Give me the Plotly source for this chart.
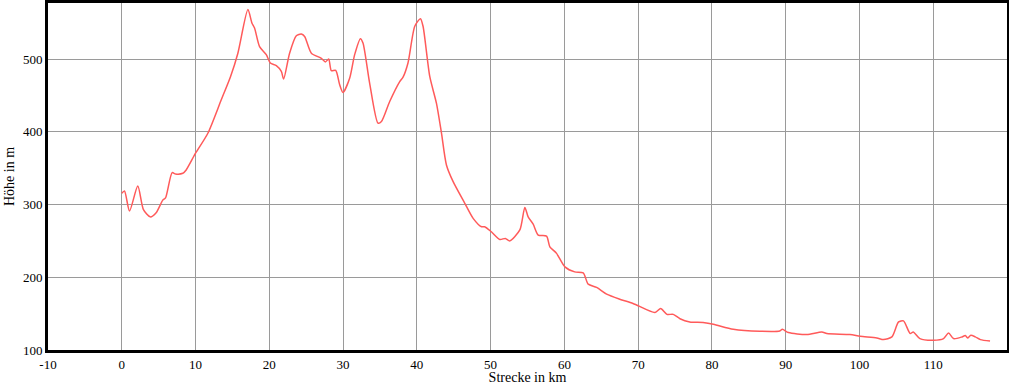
import plotly.graph_objects as go

distance_km = [0, 0.37, 1.05, 2.17, 2.94, 3.85, 4.66, 5.56, 5.93, 6.83, 7.29, 8.28, 8.73, 10.0,
               11.67, 13.49, 14.75, 15.74, 17.1, 17.64, 18.0, 18.68, 19.59, 20.14, 20.95, 21.63,
               21.94, 22.75, 23.66, 24.34, 24.79, 25.7, 27.06, 27.6, 28.05, 28.41, 29.0, 29.54,
               29.99, 30.9, 31.57, 32.35, 32.7, 33.6, 34.74, 35.2, 36.32, 37.68, 38.13, 38.8,
               39.72, 40.49, 40.84, 41.75, 42.66, 43.34, 44.01, 44.92, 46.5, 47.63, 48.77, 49.2,
               50.1, 51.25, 52.0, 52.6, 53.96, 54.64, 55.09, 55.77, 56.45, 57.58, 58.03, 58.94,
               60.07, 61.4, 62.55, 63.23, 64.37, 65.73, 67.5, 69.3, 72.28, 73.05, 73.9, 74.76,
               75.67, 77.0, 78.8, 80.2, 82.9, 86.5, 89.2, 89.55, 90.37, 92.86, 94.9, 95.58,
               98.7, 100.1, 102.36, 103.26, 104.4, 105.3, 105.97, 106.88, 107.3, 108.2, 110.04,
               111.4, 112.08, 112.75, 113.9, 114.35, 114.66, 115.1, 115.7, 116.4, 117.7]
elevation_m = [315.5, 318.6, 291, 325.5, 293, 283, 288.7, 306, 309, 343.8, 342, 343, 347.5, 370.5,
               398, 444, 476, 508, 568, 549.6, 542.6, 517, 506, 494.5, 491, 483,
               472.4, 508, 532, 534.4, 531, 508, 501, 496, 500, 484, 484.3, 464.6,
               454, 474, 506, 528, 522, 467, 411.8, 414, 441.6, 469, 475, 494.5,
               545, 555.5, 545, 476, 439, 398, 354.4, 331.4, 301.7, 281, 269.4, 269.4,
               262.5, 252, 253.4, 250, 265, 296, 283, 273, 258, 256.6, 241.9, 232.8,
               214.3, 207.4, 206, 190.5, 186, 176.7, 169.8, 164, 151.5, 157, 149, 149,
               143, 138.6, 137.7, 135.4, 128.5, 125.8, 126.2, 128.5, 124, 121.2, 124.8, 122.6,
               121.2, 118.9, 116.5, 114.3, 118, 138.6, 140, 122.6, 124.8, 115.7, 113.4,
               115.7, 123.4, 115.7, 118, 119.8, 116.5, 120.2, 118, 114.3, 112.4]

x_ticks = [-10, 0, 10, 20, 30, 40, 50, 60, 70, 80, 90, 100, 110]
y_ticks = [100, 200, 300, 400, 500]

fig = go.Figure()
fig.add_trace(go.Scatter(
    x=distance_km, y=elevation_m, mode="lines",
    line=dict(color="#ff5a5a", width=1.5, shape="spline", smoothing=0.7),
    showlegend=False, hoverinfo="x+y"))

font_family = "Liberation Serif"
fig.update_layout(
    width=1009, height=385,
    margin=dict(l=48, r=2, t=3, b=35, autoexpand=False),
    paper_bgcolor="white", plot_bgcolor="white",
    font=dict(family=font_family, size=13, color="black"),
    xaxis=dict(range=[-10, 120], tickvals=x_ticks, ticktext=[str(v) for v in x_ticks],
               showgrid=True, gridcolor="#9a9a9a", gridwidth=1.2,
               showline=True, linecolor="black", linewidth=3, mirror=True,
               zeroline=False, ticks="", ticklen=0, automargin=False,
               title=dict(text="Strecke in km", font=dict(size=14, family=font_family), standoff=0),
               tickfont=dict(size=13, family=font_family)),
    yaxis=dict(range=[100, 577], tickvals=y_ticks, ticktext=[str(v) for v in y_ticks],
               showgrid=True, gridcolor="#9a9a9a", gridwidth=1.2,
               showline=True, linecolor="black", linewidth=3, mirror=True,
               zeroline=False, ticks="", ticklen=0, automargin=False,
               title=dict(text="Höhe in m", font=dict(size=14, family=font_family), standoff=6),
               tickfont=dict(size=13, family=font_family)),
)

fig.write_html("out.html", config={"displayModeBar": False},
               post_script="document.body.style.margin='0';document.body.style.padding='0';")
